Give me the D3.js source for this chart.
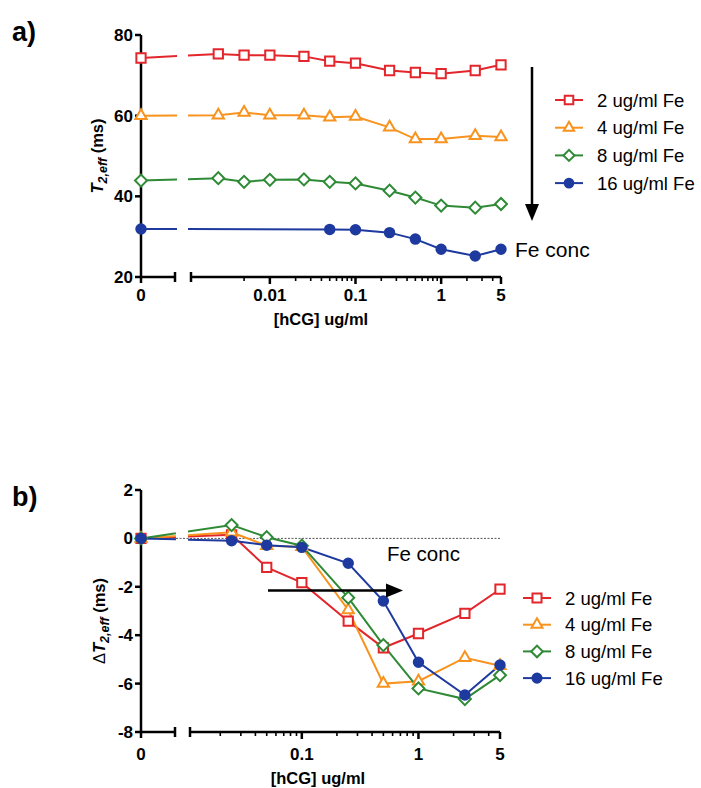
<!DOCTYPE html>
<html>
<head>
<meta charset="utf-8">
<script src="https://cdn.jsdelivr.net/npm/d3@7"></script>
<style>
  html, body { margin: 0; padding: 0; background: #fff; }
  svg { display: block; font-family: "Liberation Sans", Arial, sans-serif; }
</style>
</head>
<body>
<svg id="chart" width="701" height="788"></svg>
<script>
/*  */
/* Data */
/*  */

// panel a) T2,eff (ms) vs [hCG]
const concA = [0, 0.0025, 0.005, 0.01, 0.025, 0.05, 0.1, 0.25, 0.5, 1, 2.5, 5];
const fe2A  = [74.3, 75.3, 75.0, 75.0, 74.7, 73.5, 73.0, 71.2, 70.7, 70.4, 71.2, 72.6];
const fe4A  = [60.0, 60.1, 60.8, 60.1, 60.1, 59.6, 59.8, 57.1, 54.2, 54.2, 55.0, 54.7];
const fe8A  = [43.9, 44.5, 43.6, 44.1, 44.2, 43.6, 43.2, 41.4, 39.7, 37.7, 37.2, 38.1];
const fe16A = [31.9, null, null, null, null, 31.8, 31.7, 31.0, 29.4, 26.9, 25.2, 26.9];

// panel b) delta T2,eff (ms) vs [hCG]
const concB = [0, 0.025, 0.05, 0.1, 0.25, 0.5, 1, 2.5, 5];
const fe2B  = [0, 0.15, -1.2, -1.83, -3.42, -4.52, -3.93, -3.1, -2.1];
const fe4B  = [0, 0.25, -0.3, -0.35, -2.96, -6.0, -5.9, -4.93, -5.26];
const fe8B  = [0, 0.55, 0.05, -0.3, -2.45, -4.41, -6.2, -6.64, -5.65];
const fe16B = [0, -0.1, -0.28, -0.37, -1.03, -2.59, -5.12, -6.47, -5.23];

const seriesNames = ["2 ug/ml Fe", "4 ug/ml Fe", "8 ug/ml Fe", "16 ug/ml Fe"];

const yTicksA = [20, 40, 60, 80];
const yTicksB = [-8, -6, -4, -2, 0, 2];
const xLabelsA = [0.01, 0.1, 1, 5];
const xLabelsB = [0.1, 1, 5];

/*  */
/* Styles */
/*  */

const colors = ["#e2262b", "#f7931e", "#2f8a36", "#1e3a9f"];
const shapes = ["square", "triangle", "diamond", "circle"];

const svg = d3.select("#chart");
svg.append("rect").attr("width", 701).attr("height", 788).attr("fill", "#fff");

function markerPath(shape, k) {
  if (shape === "square") return d3.symbol(d3.symbolSquare, 86 * k)();
  if (shape === "triangle") return d3.symbol(d3.symbolTriangle, 55 * k)();
  if (shape === "diamond") return d3.symbol(d3.symbolSquare, 72 * k)();
  return d3.symbol(d3.symbolCircle, 70 * k)();
}

function drawMarker(g, shape, i, px, py, k) {
  g.append("path")
    .attr("d", markerPath(shape, k))
    .attr("transform", "translate(" + px + "," + py + ")" + (shape === "diamond" ? " rotate(45)" : ""))
    .attr("fill", shape === "circle" ? colors[i] : "#fff")
    .attr("stroke", colors[i])
    .attr("stroke-width", 2);
}

/*  */
/* One panel: broken x axis (0 | log scale) */
/*  */

function drawPanel(p) {
  const g = svg.append("g").attr("class", p.id);

  const xZero = d3.scaleLinear().domain([0, 1]).range([p.x0, p.seg1End]);
  const xLog = d3.scaleLog().domain(p.logDomain).range([p.seg2Start, p.xEnd]);
  const y = d3.scaleLinear().domain(p.yDomain).range(p.yRange);
  const xPos = c => c === 0 ? xZero(0) : xLog(c);

  const axisY = p.yRange[0];

  // clip regions so lines break at the axis gap
  const clipL = p.id + "-clipL", clipR = p.id + "-clipR";
  const defs = g.append("defs");
  defs.append("clipPath").attr("id", clipL).append("rect")
    .attr("x", 0).attr("y", 0).attr("width", p.gap[0]).attr("height", 788);
  defs.append("clipPath").attr("id", clipR).append("rect")
    .attr("x", p.gap[1]).attr("y", 0).attr("width", 701).attr("height", 788);

  // zero reference line (panel b)
  if (p.zeroLine) {
    g.append("line")
      .attr("x1", p.x0).attr("x2", p.xEnd)
      .attr("y1", y(0)).attr("y2", y(0))
      .attr("stroke", "#555").attr("stroke-width", 1)
      .attr("stroke-dasharray", "2,1.5");
  }

  // y axis
  g.append("line")
    .attr("x1", p.x0).attr("x2", p.x0)
    .attr("y1", p.yRange[1]).attr("y2", axisY)
    .attr("stroke", "#000").attr("stroke-width", 2.5);
  p.yTicks.forEach(t => {
    g.append("line")
      .attr("x1", p.x0 - 6).attr("x2", p.x0)
      .attr("y1", y(t)).attr("y2", y(t))
      .attr("stroke", "#000").attr("stroke-width", 2.5);
    g.append("text")
      .attr("x", p.x0 - 8).attr("y", y(t) + 6)
      .attr("text-anchor", "end")
      .attr("font-size", 17).attr("font-weight", "bold")
      .text(t);
  });

  // x axis: zero segment
  g.append("line")
    .attr("x1", p.x0).attr("x2", p.seg1End)
    .attr("y1", axisY).attr("y2", axisY)
    .attr("stroke", "#000").attr("stroke-width", 2.5);
  g.append("line")
    .attr("x1", p.x0).attr("x2", p.x0)
    .attr("y1", axisY).attr("y2", axisY + 6)
    .attr("stroke", "#000").attr("stroke-width", 2.5);
  [p.seg1End, p.seg2Start].forEach(xc => {
    g.append("line")
      .attr("x1", xc).attr("x2", xc)
      .attr("y1", axisY - 5).attr("y2", axisY + 5)
      .attr("stroke", "#000").attr("stroke-width", 2.5);
  });
  g.append("text")
    .attr("x", p.x0).attr("y", axisY + p.labelDy)
    .attr("text-anchor", "middle")
    .attr("font-size", 17).attr("font-weight", "bold")
    .text("0");

  // x axis: log segment
  g.append("line")
    .attr("x1", p.seg2Start).attr("x2", p.xEnd)
    .attr("y1", axisY).attr("y2", axisY)
    .attr("stroke", "#000").attr("stroke-width", 2.5);
  p.minorTicks.forEach(t => {
    g.append("line")
      .attr("x1", xLog(t)).attr("x2", xLog(t))
      .attr("y1", axisY).attr("y2", axisY + 4)
      .attr("stroke", "#000").attr("stroke-width", 1.6);
  });
  p.xLabels.forEach(t => {
    g.append("line")
      .attr("x1", xLog(t)).attr("x2", xLog(t))
      .attr("y1", axisY).attr("y2", axisY + 7)
      .attr("stroke", "#000").attr("stroke-width", 2.5);
    g.append("text")
      .attr("x", xLog(t)).attr("y", axisY + p.labelDy)
      .attr("text-anchor", "middle")
      .attr("font-size", 17).attr("font-weight", "bold")
      .text(t);
  });

  // axis titles
  g.append("text")
    .attr("x", p.xTitleX).attr("y", axisY + p.labelDy + 24)
    .attr("text-anchor", "middle")
    .attr("font-size", 16.5).attr("font-weight", "bold")
    .text("[hCG] ug/ml");

  const yt = g.append("text")
    .attr("transform", "translate(" + p.yTitle[0] + "," + p.yTitle[1] + ") rotate(-90)")
    .attr("text-anchor", "middle")
    .attr("font-size", 16.5).attr("font-weight", "bold");
  if (p.delta) yt.append("tspan").attr("font-weight", "normal").text("\u0394");
  yt.append("tspan").attr("font-style", "italic").text("T");
  yt.append("tspan").attr("font-style", "italic").attr("font-size", 12.5)
    .attr("dy", 4).text("2,eff");
  yt.append("tspan").attr("dy", -4).text(" (ms)");

  // series
  const line = d3.line().x(d => xPos(d.c)).y(d => y(d.v));
  p.series.forEach((vals, i) => {
    const pts = p.conc.map((c, j) => ({c: c, v: vals[j]})).filter(d => d.v !== null);
    [clipL, clipR].forEach(cid => {
      g.append("path")
        .datum(pts)
        .attr("d", line)
        .attr("clip-path", "url(#" + cid + ")")
        .attr("fill", "none")
        .attr("stroke", colors[i])
        .attr("stroke-width", 2);
    });
  });
  p.series.forEach((vals, i) => {
    const pts = p.conc.map((c, j) => ({c: c, v: vals[j]})).filter(d => d.v !== null);
    pts.forEach(d => drawMarker(g, shapes[i], i, xPos(d.c), y(d.v), p.markerK));
  });

  // legend
  seriesNames.forEach((name, i) => {
    const ly = p.legend.y0 + i * p.legend.dy;
    g.append("line")
      .attr("x1", p.legend.x).attr("x2", p.legend.x + 28)
      .attr("y1", ly).attr("y2", ly)
      .attr("stroke", colors[i]).attr("stroke-width", 2);
    drawMarker(g, shapes[i], i, p.legend.x + 14, ly, p.legend.k);
    g.append("text")
      .attr("x", p.legend.x + 42).attr("y", ly + 6.5)
      .attr("font-size", 18.5)
      .text(name);
  });

  // panel tag
  g.append("text")
    .attr("x", 12).attr("y", p.tagY)
    .attr("font-size", 27).attr("font-weight", "bold")
    .text(p.tag);

  // Fe conc annotation
  g.append("text")
    .attr("x", p.feText[0]).attr("y", p.feText[1])
    .attr("font-size", p.feText[2])
    .text("Fe conc");

  // arrow
  const a = p.arrow;
  g.append("line")
    .attr("x1", a.x1).attr("y1", a.y1).attr("x2", a.x2).attr("y2", a.y2)
    .attr("stroke", "#000").attr("stroke-width", 2.5);
  const ang = Math.atan2(a.y3 - a.y1, a.x3 - a.x1);
  const hl = 17, hw = 7;
  const bx = a.x3 - hl * Math.cos(ang), by = a.y3 - hl * Math.sin(ang);
  g.append("path")
    .attr("d", "M" + a.x3 + "," + a.y3 +
      "L" + (bx - hw * Math.sin(ang)) + "," + (by + hw * Math.cos(ang)) +
      "L" + (bx + hw * Math.sin(ang)) + "," + (by - hw * Math.cos(ang)) + "Z")
    .attr("fill", "#000");
}

const minorA = [0.005].concat(d3.range(2, 10).map(k => k * 0.01), d3.range(2, 10).map(k => k * 0.1), [2, 3, 4]);
const minorB = d3.range(2, 10).map(k => k * 0.01).concat(d3.range(2, 10).map(k => k * 0.1), [2, 3, 4]);

drawPanel({
  id: "pa", tag: "a)", tagY: 41,
  conc: concA, series: [fe2A, fe4A, fe8A, fe16A],
  x0: 141, seg1End: 175, seg2Start: 191, xEnd: 501, gap: [177, 188],
  logDomain: [0.0012, 5],
  yDomain: [20, 80], yRange: [277, 35],
  yTicks: yTicksA, xLabels: xLabelsA, minorTicks: minorA,
  labelDy: 24, xTitleX: 321,
  yTitle: [103, 156], delta: false,
  markerK: 1,
  legend: {x: 555, y0: 100, dy: 27.7, k: 0.85},
  feText: [515, 257, 21],
  arrow: {x1: 532, y1: 67, x2: 532, y2: 206, x3: 532, y3: 221},
  zeroLine: false
});

drawPanel({
  id: "pb", tag: "b)", tagY: 506,
  conc: concB, series: [fe2B, fe4B, fe8B, fe16B],
  x0: 141, seg1End: 175, seg2Start: 190, xEnd: 500, gap: [176, 188],
  logDomain: [0.011, 5],
  yDomain: [-8, 2], yRange: [732, 490],
  yTicks: yTicksB, xLabels: xLabelsB, minorTicks: minorB,
  labelDy: 28, xTitleX: 318,
  yTitle: [105, 621], delta: true,
  markerK: 1,
  legend: {x: 523, y0: 598, dy: 26.7, k: 0.95},
  feText: [387, 561, 20.5],
  arrow: {x1: 268, y1: 590.5, x2: 390, y2: 590.5, x3: 403, y3: 590.5},
  zeroLine: true
});
</script>
</body>
</html>
